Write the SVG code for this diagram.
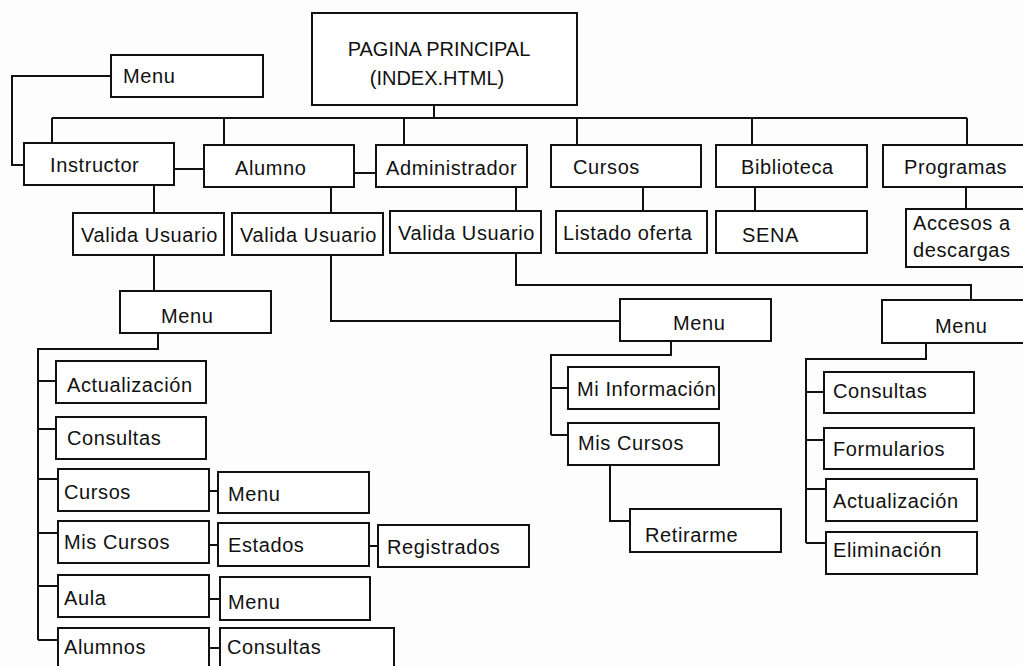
<svg xmlns="http://www.w3.org/2000/svg" width="1023" height="666" viewBox="0 0 1023 666">
<style>
.b{fill:#fff;stroke:#111;stroke-width:2}
.c{fill:none;stroke:#111;stroke-width:2}
text{font-family:"Liberation Sans",Arial,sans-serif;font-size:20px;fill:#111;letter-spacing:0.6px}
.m{text-anchor:middle;letter-spacing:0}
</style>
<rect width="1023" height="666" fill="#fdfdfd"/>
<g id="connectors" class="c">
<path d="M434 105V118M52 118H967M52 118V143M224 118V145M404 118V145M577 118V145M752 118V145M967 118V145"/>
<path d="M111 76H12V165H24"/>
<path d="M174 169H204M354 173H376"/>
<path d="M154 185V213M331 187V213M516 187V211M643 187V211M755 187V211M966 187V209"/>
<path d="M154 255V291"/>
<path d="M158 333V349H38V640M38 381H56M38 429H56M38 479H58M38 533H58M38 586H58M38 640H58"/>
<path d="M209 491H218M209 545H218M369 546H378M209 599H220M209 648H220"/>
<path d="M331 255V321H620"/>
<path d="M516 253V285H971V300"/>
<path d="M671 341V355H551V435M551 388H568M551 435H568"/>
<path d="M610 465V521H630"/>
<path d="M926 343V359H806V543M806 392H824M806 440H824M806 489H826M806 543H826"/>
</g>
<g id="n-main"><rect class="b" x="312" y="13" width="265" height="92"/><text class="m" x="439" y="56">PAGINA PRINCIPAL</text><text class="m" x="437" y="85">(INDEX.HTML)</text></g>
<g id="n-menu-top"><rect class="b" x="111" y="55" width="152" height="42"/><text x="123" y="83">Menu</text></g>
<g id="n-instructor"><rect class="b" x="24" y="143" width="150" height="42"/><text x="50" y="172">Instructor</text></g>
<g id="n-alumno"><rect class="b" x="204" y="145" width="150" height="42"/><text x="235" y="175">Alumno</text></g>
<g id="n-admin"><rect class="b" x="376" y="145" width="151" height="42"/><text x="386" y="175">Administrador</text></g>
<g id="n-cursos"><rect class="b" x="551" y="145" width="150" height="42"/><text x="573" y="174">Cursos</text></g>
<g id="n-biblioteca"><rect class="b" x="716" y="145" width="151" height="42"/><text x="741" y="174">Biblioteca</text></g>
<g id="n-programas"><rect class="b" x="883" y="145" width="150" height="42"/><text x="904" y="174">Programas</text></g>
<g id="n-valida1"><rect class="b" x="73" y="213" width="151" height="42"/><text x="81" y="242">Valida Usuario</text></g>
<g id="n-valida2"><rect class="b" x="232" y="213" width="151" height="42"/><text x="240" y="242">Valida Usuario</text></g>
<g id="n-valida3"><rect class="b" x="390" y="211" width="151" height="42"/><text x="398" y="240">Valida Usuario</text></g>
<g id="n-listado"><rect class="b" x="556" y="211" width="151" height="42"/><text x="563" y="240">Listado oferta</text></g>
<g id="n-sena"><rect class="b" x="716" y="211" width="151" height="42"/><text x="742" y="242">SENA</text></g>
<g id="n-accesos"><rect class="b" x="906" y="209" width="130" height="58"/><text x="913" y="230">Accesos a</text><text x="913" y="257">descargas</text></g>
<g id="n-menu-i"><rect class="b" x="120" y="291" width="151" height="42"/><text x="161" y="323">Menu</text></g>
<g id="n-actualizacion-i"><rect class="b" x="56" y="361" width="150" height="42"/><text x="67" y="392">Actualización</text></g>
<g id="n-consultas-i"><rect class="b" x="56" y="417" width="150" height="42"/><text x="67" y="445">Consultas</text></g>
<g id="n-cursos-i"><rect class="b" x="58" y="469" width="151" height="42"/><text x="64" y="499">Cursos</text></g>
<g id="n-menu-c"><rect class="b" x="218" y="472" width="151" height="41"/><text x="228" y="501">Menu</text></g>
<g id="n-miscursos-i"><rect class="b" x="58" y="521" width="151" height="42"/><text x="64" y="549">Mis Cursos</text></g>
<g id="n-estados"><rect class="b" x="218" y="523" width="151" height="43"/><text x="228" y="552">Estados</text></g>
<g id="n-registrados"><rect class="b" x="378" y="525" width="151" height="42"/><text x="387" y="554">Registrados</text></g>
<g id="n-aula"><rect class="b" x="58" y="575" width="151" height="42"/><text x="64" y="605">Aula</text></g>
<g id="n-menu-a"><rect class="b" x="220" y="577" width="150" height="43"/><text x="228" y="609">Menu</text></g>
<g id="n-alumnos"><rect class="b" x="58" y="628" width="151" height="52"/><text x="64" y="654">Alumnos</text></g>
<g id="n-consultas-a"><rect class="b" x="220" y="628" width="174" height="52"/><text x="227" y="654">Consultas</text></g>
<g id="n-menu-m"><rect class="b" x="620" y="299" width="151" height="42"/><text x="673" y="330">Menu</text></g>
<g id="n-miinfo"><rect class="b" x="568" y="367" width="151" height="42"/><text x="577" y="396">Mi Información</text></g>
<g id="n-miscursos-m"><rect class="b" x="568" y="423" width="151" height="42"/><text x="578" y="450">Mis Cursos</text></g>
<g id="n-retirarme"><rect class="b" x="630" y="509" width="151" height="43"/><text x="645" y="542">Retirarme</text></g>
<g id="n-menu-r"><rect class="b" x="882" y="300" width="150" height="43"/><text x="935" y="333">Menu</text></g>
<g id="n-consultas-r"><rect class="b" x="824" y="372" width="150" height="41"/><text x="833" y="398">Consultas</text></g>
<g id="n-formularios"><rect class="b" x="824" y="428" width="150" height="41"/><text x="833" y="456">Formularios</text></g>
<g id="n-actualizacion-r"><rect class="b" x="826" y="479" width="151" height="42"/><text x="833" y="508">Actualización</text></g>
<g id="n-eliminacion"><rect class="b" x="826" y="532" width="151" height="42"/><text x="833" y="557">Eliminación</text></g>
</svg>
